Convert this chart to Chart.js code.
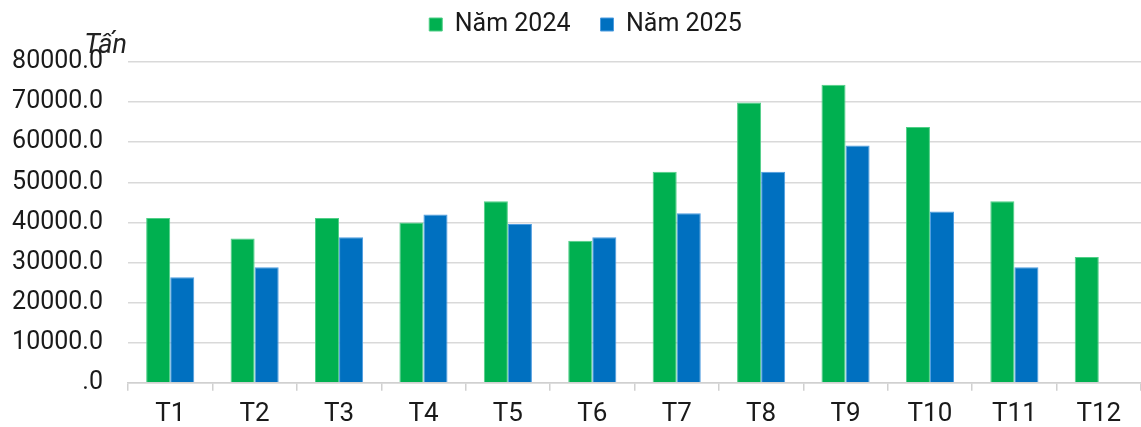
<!DOCTYPE html>
<html>
<head>
<meta charset="utf-8">
<script src="https://cdn.jsdelivr.net/npm/chart.js@4/dist/chart.umd.min.js"></script>
<style>
  html, body { margin: 0; padding: 0; background: #fff; }
  #wrap { width: 1141px; height: 427px; position: relative; }
</style>
</head>
<body>
<div id="wrap"><canvas id="myChart"></canvas></div>
<script>
const months = ["T1", "T2", "T3", "T4", "T5", "T6", "T7", "T8", "T9", "T10", "T11", "T12"];
const year2024 = [41100, 36000, 41100, 40000, 45300, 35400, 52600, 69900, 74300, 63800, 45300, 31400];
const year2025 = [26300, 28800, 36300, 42000, 39600, 36300, 42300, 52600, 59200, 42700, 28800, null];
const unitLabel = "Tấn";

// draws the unit label just above the y axis
const unitPlugin = {
	id: "unitLabel",
	afterDraw(chart) {
		const ctx = chart.ctx;
		const area = chart.chartArea;
		ctx.save();
		ctx.font = "italic 27px Roboto";
		ctx.fillStyle = "#222";
		ctx.textAlign = "right";
		ctx.textBaseline = "alphabetic";
		ctx.fillText(unitLabel, area.left - 1, area.top - 9);
		ctx.restore();
	}
};

// fixed legend height so the plot starts lower, and nudge it right a bit
const legendTweak = {
	id: "legendTweak",
	beforeInit(chart) {
		const fit = chart.legend.fit;
		chart.legend.fit = function() {
			fit.bind(chart.legend)();
			this.height = 80;
		};
	},
	afterLayout(chart) {
		chart.legend.left += 10;
		chart.legend.right += 10;
	}
};

const ctx = document.getElementById("myChart").getContext("2d");
new Chart(ctx, {
	type: "bar",
	data: {
		labels: months,
		datasets: [{
			label: "Năm 2024",
			data: year2024,
			backgroundColor: "#00b050",
			borderColor: "#4fcf86",
			borderWidth: 1,
		}, {
			label: "Năm 2025",
			data: year2025,
			backgroundColor: "#0070c0",
			borderColor: "#4d9ce0",
			borderWidth: 1,
		}]
	},
	options: {
		responsive: true,
		maintainAspectRatio: false,
		animation: false,
		layout: { padding: { left: 10, right: 0, top: -18, bottom: -11 } },
		datasets: { bar: { categoryPercentage: 0.57, barPercentage: 1.0 } },
		plugins: {
			legend: {
				position: "top",
				labels: {
					boxWidth: 13,
					boxHeight: 13,
					padding: 30,
					color: "#1a1a1a",
					font: { family: "Roboto", size: 25 }
				}
			},
			tooltip: { enabled: false }
		},
		scales: {
			x: {
				grid: { offset: true, drawOnChartArea: false, drawTicks: true, tickLength: 8, color: "#d0d0d0", lineWidth: 1.5 },
				border: { color: "#d0d0d0", width: 1.5 },
				ticks: { color: "#1a1a1a", padding: 8, font: { family: "Roboto", size: 26 } }
			},
			y: {
				min: 0,
				max: 80000,
				afterFit(scale) { scale.width = 118; },
				grid: { color: "#d9d9d9", lineWidth: 1.5, drawTicks: false },
				border: { display: false },
				ticks: {
					stepSize: 10000,
					padding: 25,
					color: "#1a1a1a",
					font: { family: "Roboto", size: 25 },
					callback: v => v === 0 ? ".0" : v.toFixed(1)
				}
			}
		}
	},
	plugins: [unitPlugin, legendTweak]
});
</script>
</body>
</html>
